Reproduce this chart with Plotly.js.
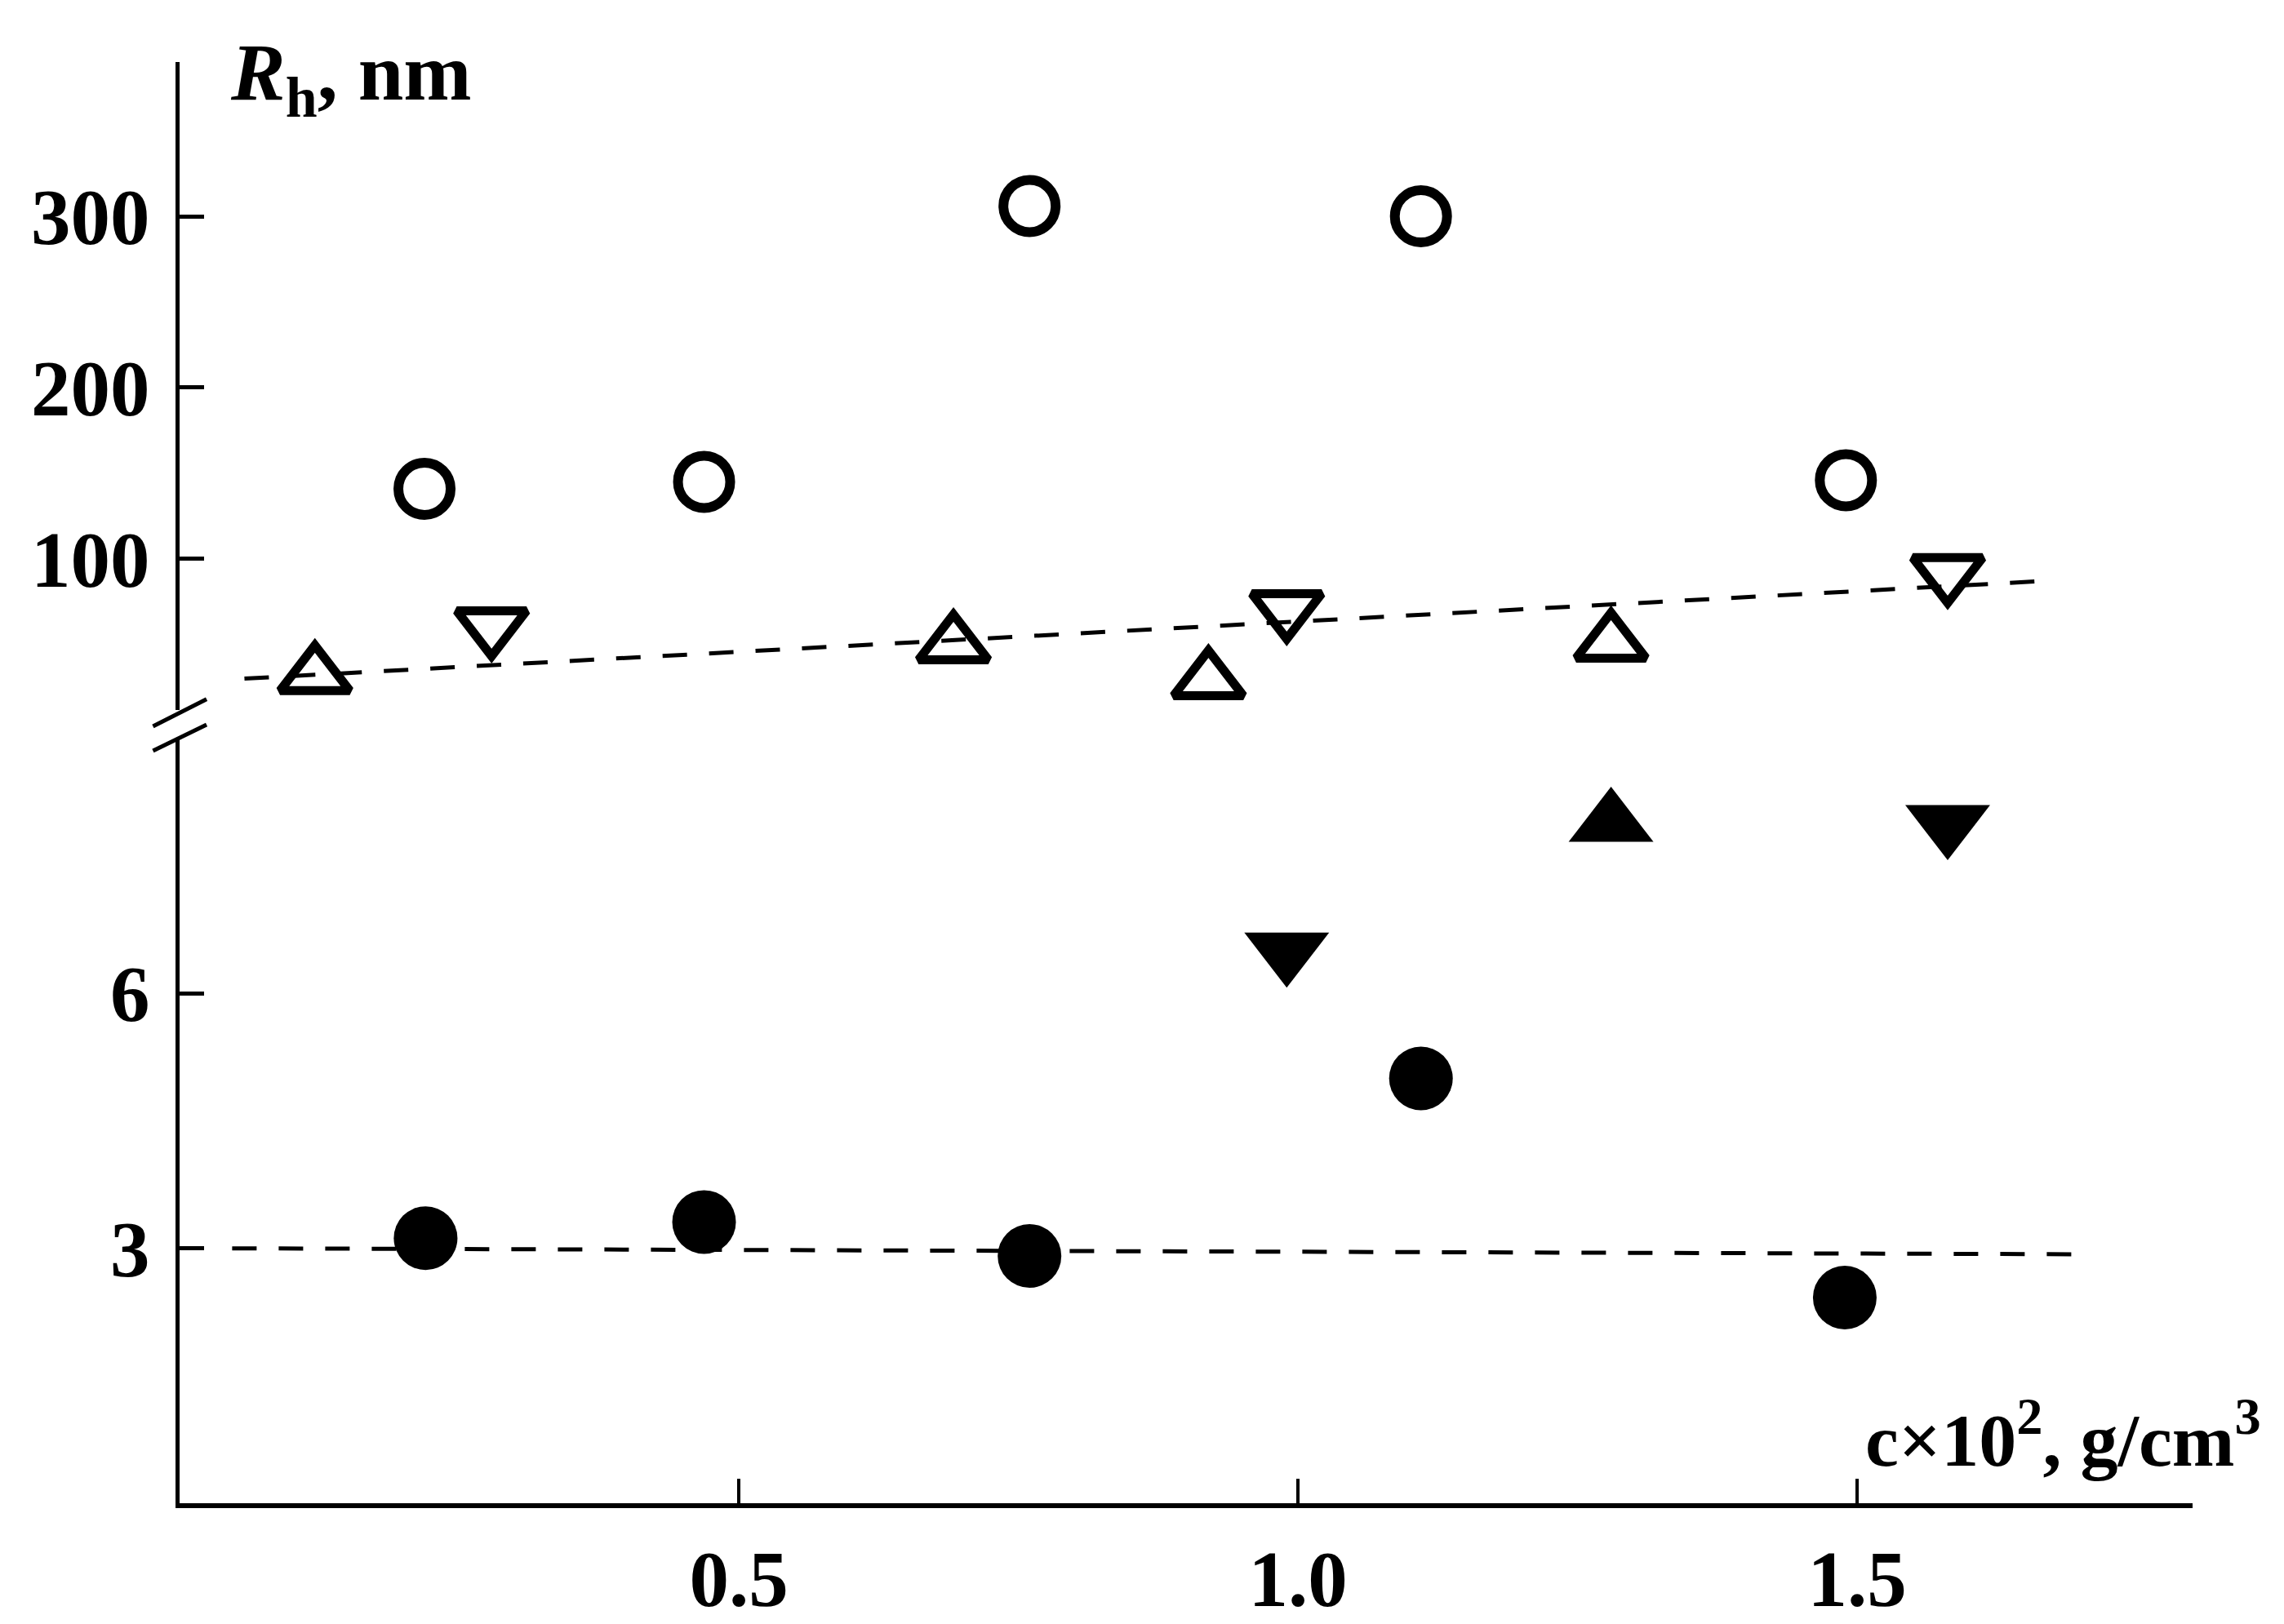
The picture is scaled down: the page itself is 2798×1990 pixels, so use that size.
<!DOCTYPE html>
<html><head><meta charset="utf-8">
<script src="https://cdn.plot.ly/plotly-3.0.1.min.js"></script>
<style>html,body{margin:0;padding:0;background:#fff;} #chart{width:2798px;height:1990px;}</style>
</head><body><div id="chart"></div>
<script>
// ---- data (x: c x 10^2, g/cm^3 ; y: Rh, nm) ----
// upper (large-size) scale
const openCircleX = [0.219, 0.469, 0.760, 1.110, 1.490];
const openCircleY = [141, 145, 306, 300, 146];
const openUpX = [0.121, 0.692, 0.920, 1.280];
const openUpY = [32, 50, 29, 51];
const openDownX = [0.279, 0.990, 1.581];
const openDownY = [61, 71, 92];
const fitUpperX = [0.058, 1.665];
const fitUpperY = [30.2, 87.1];
// lower (small-size) scale
const filledCircleX = [0.220, 0.469, 0.760, 1.110, 1.489];
const filledCircleY = [3.12, 3.31, 2.91, 5.00, 2.42];
const filledUpX = [1.280];
const filledUpY = [8.0];
const filledDownX = [0.990, 1.581];
const filledDownY = [6.5, 8.0];
const fitLowerX = [0.047, 1.700];
const fitLowerY = [3.0, 2.93];
// ticks
const xTickVals = [0.5, 1.0, 1.5];
const xTickText = ['0.5', '1.0', '1.5'];
const yUpperTicks = [100, 200, 300];
const yLowerTicks = [3, 6];

const FONT = 'Liberation Serif, Times New Roman, serif';
const dash = '30px,27px';

const traces = [
  {x: fitUpperX, y: fitUpperY, yaxis: 'y2', mode: 'lines', line: {color: 'black', width: 5, dash: dash}},
  {x: fitLowerX, y: fitLowerY, yaxis: 'y', mode: 'lines', line: {color: 'black', width: 5, dash: dash}},
  {x: openCircleX, y: openCircleY, yaxis: 'y2', mode: 'markers',
   marker: {symbol: 'circle-open', size: 64, color: 'black', line: {width: 12, color: 'black'}}},
  {x: openUpX, y: openUpY, yaxis: 'y2', mode: 'markers',
   marker: {symbol: 'triangle-up-open', size: 74, color: 'black', line: {width: 11, color: 'black'}}},
  {x: openDownX, y: openDownY, yaxis: 'y2', mode: 'markers',
   marker: {symbol: 'triangle-down-open', size: 74, color: 'black', line: {width: 11, color: 'black'}}},
  {x: filledCircleX, y: filledCircleY, yaxis: 'y', mode: 'markers',
   marker: {symbol: 'circle', size: 78, color: 'black', line: {width: 0}}},
  {x: filledUpX, y: filledUpY, yaxis: 'y', mode: 'markers',
   marker: {symbol: 'triangle-up', size: 90, color: 'black', line: {width: 0}}},
  {x: filledDownX, y: filledDownY, yaxis: 'y', mode: 'markers',
   marker: {symbol: 'triangle-down', size: 90, color: 'black', line: {width: 0}}}
];

const tickFont = {family: FONT, size: 97, color: 'black', weight: 'bold'};

const layout = {
  width: 2798, height: 1990,
  paper_bgcolor: 'white', plot_bgcolor: 'white',
  showlegend: false,
  margin: {l: 220, r: 112, t: 76, b: 148, pad: 0},
  xaxis: {
    range: [0, 1.8], showgrid: false, zeroline: false,
    showline: true, linecolor: 'black', linewidth: 6,
    ticks: 'inside', ticklen: 30, tickwidth: 4, tickcolor: 'black',
    tickvals: xTickVals, ticktext: xTickText, tickfont: tickFont,
    ticklabelstandoff: 4, automargin: false, anchor: 'y'
  },
  yaxis: {
    domain: [0, 0.5306], range: [0, 9.0], showgrid: false, zeroline: false,
    showline: true, linecolor: 'black', linewidth: 5,
    ticks: 'inside', ticklen: 30, tickwidth: 5, tickcolor: 'black',
    tickvals: yLowerTicks, tickfont: tickFont, ticklabelstandoff: 12,
    automargin: false, anchor: 'x'
  },
  yaxis2: {
    domain: [0.5504, 1], range: [11.9, 390], showgrid: false, zeroline: false,
    showline: true, linecolor: 'black', linewidth: 5,
    ticks: 'inside', ticklen: 30, tickwidth: 5, tickcolor: 'black',
    tickvals: yUpperTicks, tickfont: tickFont, ticklabelstandoff: 12,
    automargin: false, anchor: 'x'
  },
  shapes: [
    {type: 'line', xref: 'paper', yref: 'paper', x0: -0.0132, y0: 0.5391, x1: 0.0134, y1: 0.5579,
     line: {color: 'black', width: 5}},
    {type: 'line', xref: 'paper', yref: 'paper', x0: -0.0132, y0: 0.5221, x1: 0.0134, y1: 0.5402,
     line: {color: 'black', width: 5}}
  ],
  annotations: [
    {xref: 'paper', yref: 'paper', x: 0.0243, y: 0.989, xanchor: 'left', yanchor: 'middle',
     showarrow: false, text: '<i>R</i><sub>h</sub>, nm',
     font: {family: FONT, size: 100, color: 'black', weight: 'bold'}},
    {xref: 'paper', yref: 'paper', x: 1.0349, y: 0.0475, xanchor: 'right', yanchor: 'middle',
     showarrow: false, text: 'c×10<sup>2</sup>, g/cm<sup>3</sup>',
     font: {family: FONT, size: 92, color: 'black', weight: 'bold'}}
  ]
};

Plotly.newPlot('chart', traces, layout, {staticPlot: true, displayModeBar: false});
</script>
</body></html>
